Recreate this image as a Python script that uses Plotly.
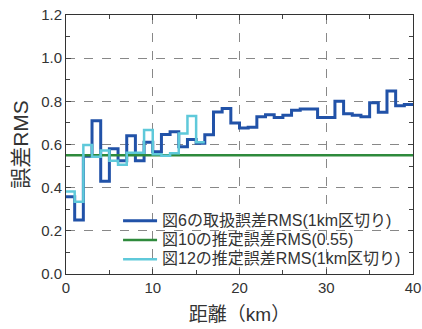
import plotly.graph_objects as go

# distance bins (km), 1 km steps
bins_fig6 = list(range(0, 41))
rms_fig6 = [0.358, 0.25, 0.545, 0.71, 0.43, 0.58, 0.525, 0.64, 0.525, 0.61,
            0.566, 0.646, 0.659, 0.59, 0.623, 0.606, 0.645, 0.751, 0.767, 0.70,
            0.676, 0.68, 0.728, 0.738, 0.725, 0.735, 0.759, 0.764, 0.765, 0.725,
            0.725, 0.80, 0.742, 0.736, 0.729, 0.793, 0.749, 0.848, 0.78, 0.785]

bins_fig12 = list(range(0, 17))
rms_fig12 = [0.382, 0.335, 0.598, 0.543, 0.572, 0.525, 0.506, 0.562, 0.562, 0.667,
             0.555, 0.548, 0.559, 0.651, 0.732, 0.61]

const_x = [0, 40]
const_rms = [0.55, 0.55]

names = ["図6の取扱誤差RMS(1km区切り)", "図10の推定誤差RMS(0.55)", "図12の推定誤差RMS(1km区切り)"]
x_ticks = [0, 10, 20, 30, 40]
y_ticks = [0.0, 0.2, 0.4, 0.6, 0.8, 1.0, 1.2]

FONT = "Liberation Sans, Noto Sans CJK JP, sans-serif"


def big(t):
    return '<span style="font-size:16px">' + t + '</span>'


fig = go.Figure()
fig.add_trace(go.Scatter(x=bins_fig6, y=rms_fig6 + [rms_fig6[-1]], mode="lines",
                         line=dict(shape="hv", color="#2152a8", width=3), name=big(names[0])))
fig.add_trace(go.Scatter(x=const_x, y=const_rms, mode="lines",
                         line=dict(color="#2e8a3c", width=2.5), name=big(names[1])))
fig.add_trace(go.Scatter(x=bins_fig12, y=rms_fig12 + [rms_fig12[-1]], mode="lines",
                         line=dict(shape="hv", color="#5fc9da", width=2.5), name=big(names[2])))

fig.update_layout(
    width=422, height=329,
    margin=dict(l=66, r=9, t=15, b=55),
    paper_bgcolor="white", plot_bgcolor="white",
    font=dict(family=FONT, color="#333"),
    showlegend=True,
    legend=dict(x=0.98, xanchor="right", y=0.0, yanchor="bottom",
                bgcolor="rgba(0,0,0,0)", font=dict(size=12.5, color="#333"),
                tracegroupgap=0, itemwidth=34),
)
fig.update_xaxes(
    range=[0, 40], tickvals=x_ticks, ticks="inside", ticklen=5,
    showline=True, linecolor="#333", linewidth=1, mirror="ticks",
    showgrid=True, gridcolor="#888", griddash="dash", gridwidth=1,
    zeroline=False, tickfont=dict(size=15), automargin=False,
    ticklabeloverflow="allow",
    minor=dict(ticks="inside", ticklen=4, dtick=5, showgrid=False),
    title=dict(text="距離（km）", font=dict(size=19), standoff=12),
)
fig.update_yaxes(
    range=[0, 1.2], tickvals=y_ticks, tickformat=".1f", ticks="inside", ticklen=5,
    showline=True, linecolor="#333", linewidth=1, mirror="ticks",
    showgrid=True, gridcolor="#888", griddash="dash", gridwidth=1,
    zeroline=False, tickfont=dict(size=15), automargin=False,
    ticklabeloverflow="allow",
    minor=dict(ticks="inside", ticklen=4, dtick=0.1, showgrid=False),
    title=dict(text="誤差RMS", font=dict(size=21), standoff=6),
)

# remove the browser's default 8px body margin so the figure fills the window
fig.write_html("out.html", config={"displayModeBar": False},
               post_script="document.body.style.margin='0';")
